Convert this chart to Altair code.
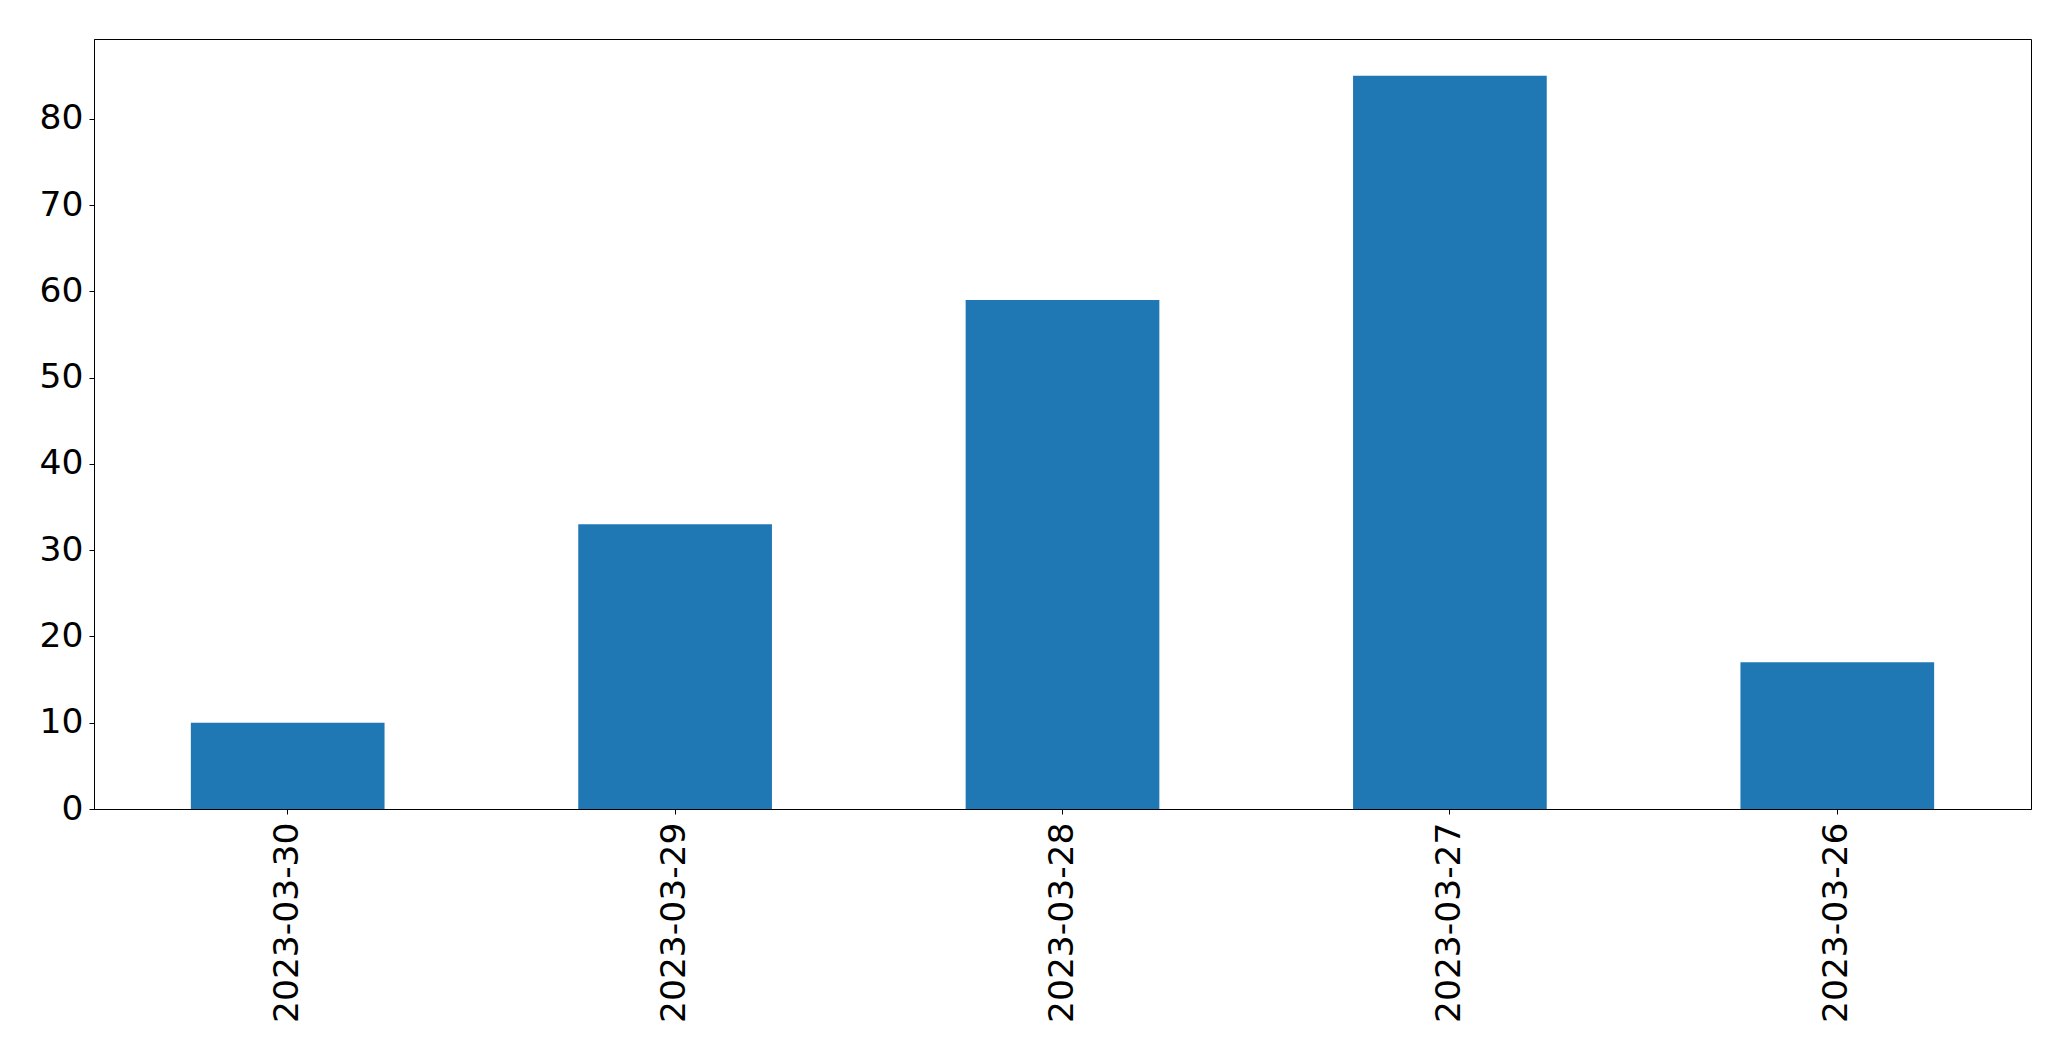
import altair as alt
import pandas as pd

dates = ["2023-03-30", "2023-03-29", "2023-03-28", "2023-03-27", "2023-03-26"]
counts = [10, 33, 59, 85, 17]
y_ticks = [0, 10, 20, 30, 40, 50, 60, 70, 80]

df = pd.DataFrame({"date": dates, "count": counts})

FONT = "DejaVu Sans"

chart = alt.Chart(df).mark_bar(color="#1f77b4").encode(
    x=alt.X(
        "date:N",
        sort=dates,
        title=None,
        scale=alt.Scale(paddingInner=0.5, paddingOuter=0.25),
        axis=alt.Axis(
            labelAngle=270,
            labelFontSize=34.5,
            labelFont=FONT,
            labelColor="black",
            labelLimit=0,
            tickColor="black",
            tickSize=5,
            labelPadding=8,
            domainColor="black",
            grid=False,
        ),
    ),
    y=alt.Y(
        "count:Q",
        title=None,
        scale=alt.Scale(domain=[0, 89.25], nice=False, zero=True),
        axis=alt.Axis(
            values=y_ticks,
            labelFontSize=34.5,
            labelFont=FONT,
            labelColor="black",
            tickColor="black",
            tickSize=5,
            labelPadding=6,
            domainColor="black",
            grid=False,
        ),
    ),
).properties(
    width=1937,
    height=770,
    autosize=alt.AutoSizeParams(type="none"),
    padding={"left": 86, "top": 31, "right": 30, "bottom": 240},
).configure(
    background="white",
    view=alt.ViewConfig(stroke="black", strokeWidth=1),
)

chart.save("out.html", embed_options={"renderer": "svg", "actions": False})
